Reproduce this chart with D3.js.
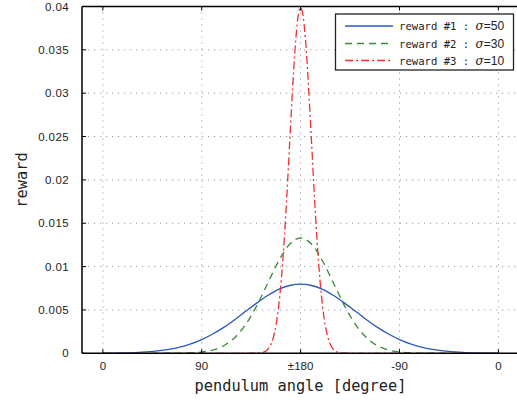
<!DOCTYPE html>
<html><head><meta charset="utf-8">
<script src="https://cdn.jsdelivr.net/npm/d3@7"></script>
<style>
html,body{margin:0;padding:0;background:#fff;}
svg{display:block;}
</style></head>
<body>
<svg id="c" width="517" height="403"></svg>
<script>
// x positions: 0..360 maps to angle labels 0, 90, ±180, -90, 0
const xTickPos = [0, 90, 180, 270, 360];
const xTickLabels = ["0", "90", "\u00b1180", "-90", "0"];
const yTicks = [0, 0.005, 0.01, 0.015, 0.02, 0.025, 0.03, 0.035, 0.04];
const yTickLabels = ["0", "0.005", "0.01", "0.015", "0.02", "0.025", "0.03", "0.035", "0.04"];

const seriesNames = ["reward #1 : ", "reward #2 : ", "reward #3 : "];
const sigmaLabels = ["=50", "=30", "=10"];

// reward #1 (sigma 50)
const x1 = [0,10,20,30,40,50,60,70,80,90,100,110,120,130,140,150,160,170,180,190,200,210,220,230,240,250,260,270,280,290,300,310,320,330,340,350,360];
const y1 = [0.000012,0.000025,0.000048,0.000089,0.00016,0.00027,0.00045,0.00071,0.00108,0.00158,0.00222,0.00299,0.00388,0.00484,0.00579,0.00666,0.00737,0.00782,0.00798,0.00782,0.00737,0.00666,0.00579,0.00484,0.00388,0.00299,0.00222,0.00158,0.00108,0.00071,0.00045,0.00027,0.00016,0.000089,0.000048,0.000025,0.000012];
// reward #2 (sigma 30)
const x2 = [0,20,40,60,70,80,90,100,110,120,130,140,150,160,170,180,190,200,210,220,230,240,250,260,270,280,290,300,320,340,360];
const y2 = [0,0,0,0.0000045,0.000016,0.000051,0.000148,0.00038,0.000874,0.0018,0.00332,0.00547,0.00807,0.01065,0.01258,0.0133,0.01258,0.01065,0.00807,0.00547,0.00332,0.0018,0.000874,0.00038,0.000148,0.000051,0.000016,0.0000045,0,0,0];
// reward #3 (sigma 10)
const x3 = [0,40,80,120,130,140,145,150,152.5,155,157.5,160,162.5,165,167.5,170,172.5,175,177.5,180,182.5,185,187.5,190,192.5,195,197.5,200,202.5,205,207.5,210,215,220,230,240,280,320,360];
const y3 = [0,0,0,0,0,0.0000134,0.0000873,0.000443,0.000909,0.00175,0.00318,0.0054,0.00863,0.01295,0.01826,0.0242,0.03011,0.03521,0.03867,0.03989,0.03867,0.03521,0.03011,0.0242,0.01826,0.01295,0.00863,0.0054,0.00318,0.00175,0.000909,0.000443,0.0000873,0.0000134,0,0,0,0,0];

const colors = ["#2a58b8", "#3a8a3a", "#ee3030"];
const dashes = [null, "7,5", "8,3,2,3"];

const svg = d3.select("#c");
const L = 82, T = 6.5, B = 353.3;
const x = d3.scaleLinear().domain([-19, 380]).range([L, L + 399 * (395.5/360)]);
const y = d3.scaleLinear().domain([0, 0.04]).range([B, T]);
const R = x(380);

// grid
const g = svg.append("g");
g.selectAll(".gx").data(xTickPos).enter().append("line")
  .attr("x1", d => x(d)).attr("x2", d => x(d)).attr("y1", T).attr("y2", B)
  .attr("stroke", "#999").attr("stroke-width", 1).attr("stroke-dasharray", "1.2,4.8");
g.selectAll(".gy").data(yTicks.slice(1, -1)).enter().append("line")
  .attr("x1", L).attr("x2", R).attr("y1", d => y(d)).attr("y2", d => y(d))
  .attr("stroke", "#999").attr("stroke-width", 1).attr("stroke-dasharray", "1.2,4.8");

// curves
const line = d3.line().x(d => x(d[0])).y(d => y(d[1])).curve(d3.curveMonotoneX);
const series = [[x1, y1], [x2, y2], [x3, y3]];
series.forEach((s, i) => {
  const pts = s[0].map((v, j) => [v, s[1][j]]);
  svg.append("path").datum(pts).attr("d", line)
    .attr("fill", "none").attr("stroke", colors[i]).attr("stroke-width", 1.3)
    .attr("stroke-dasharray", dashes[i]);
});

// axes frame
svg.append("line").attr("x1", L).attr("x2", L).attr("y1", T).attr("y2", B).attr("stroke", "#000").attr("stroke-width", 1.5);
svg.append("line").attr("x1", L).attr("x2", R).attr("y1", B).attr("y2", B).attr("stroke", "#000").attr("stroke-width", 1.5);
svg.append("line").attr("x1", L).attr("x2", R).attr("y1", T).attr("y2", T).attr("stroke", "#000").attr("stroke-width", 1.5);

// ticks
svg.selectAll(".tx").data(xTickPos).enter().append("line")
  .attr("x1", d => x(d)).attr("x2", d => x(d)).attr("y1", B).attr("y2", B - 4).attr("stroke", "#000");
svg.selectAll(".tx2").data(xTickPos).enter().append("line")
  .attr("x1", d => x(d)).attr("x2", d => x(d)).attr("y1", T).attr("y2", T + 4).attr("stroke", "#000");
svg.selectAll(".ty").data(yTicks).enter().append("line")
  .attr("x1", L).attr("x2", L + 4).attr("y1", d => y(d)).attr("y2", d => y(d)).attr("stroke", "#000");

// tick labels
const tf = "'Liberation Sans', Arial, sans-serif";
svg.selectAll(".lx").data(xTickPos).enter().append("text")
  .attr("x", d => x(d)).attr("y", 370).attr("text-anchor", "middle")
  .attr("font-family", tf).attr("font-size", 11.5).attr("fill", "#222")
  .text((d, i) => xTickLabels[i]);
svg.selectAll(".ly").data(yTicks).enter().append("text")
  .attr("x", 69).attr("y", d => y(d) + 4).attr("text-anchor", "end")
  .attr("font-family", tf).attr("font-size", 11.5).attr("fill", "#222")
  .attr("letter-spacing", 0.4)
  .text((d, i) => yTickLabels[i]);

// axis titles
const mf = "'DejaVu Sans Mono', monospace";
svg.append("text").attr("x", 300.5).attr("y", 391).attr("text-anchor", "middle")
  .attr("font-family", mf).attr("font-size", 15.3).attr("fill", "#222")
  .text("pendulum angle [degree]");
svg.append("text").attr("transform", "translate(27,180) rotate(-90)").attr("text-anchor", "middle")
  .attr("font-family", mf).attr("font-size", 15.3).attr("fill", "#222")
  .text("reward");

// legend
const lg = svg.append("g");
lg.append("rect").attr("x", 335.5).attr("y", 14).attr("width", 178).attr("height", 56)
  .attr("fill", "#fff").attr("stroke", "#222").attr("stroke-width", 1.3);
const ly = [26, 43.5, 60.5];
seriesNames.forEach((n, i) => {
  lg.append("line").attr("x1", 345).attr("x2", 393).attr("y1", ly[i]).attr("y2", ly[i])
    .attr("stroke", colors[i]).attr("stroke-width", 1.3).attr("stroke-dasharray", dashes[i]);
  const t = lg.append("text").attr("x", 399).attr("y", ly[i] + 4)
    .attr("font-family", mf).attr("font-size", 10.6).attr("fill", "#222");
  t.append("tspan").text(n);
  t.append("tspan").attr("font-family", "'DejaVu Serif', serif").attr("font-style", "italic").attr("font-size", 12).text("\u03c3");
  t.append("tspan").attr("font-family", tf).attr("font-size", 12).text(sigmaLabels[i]);
});
</script>
</body></html>
